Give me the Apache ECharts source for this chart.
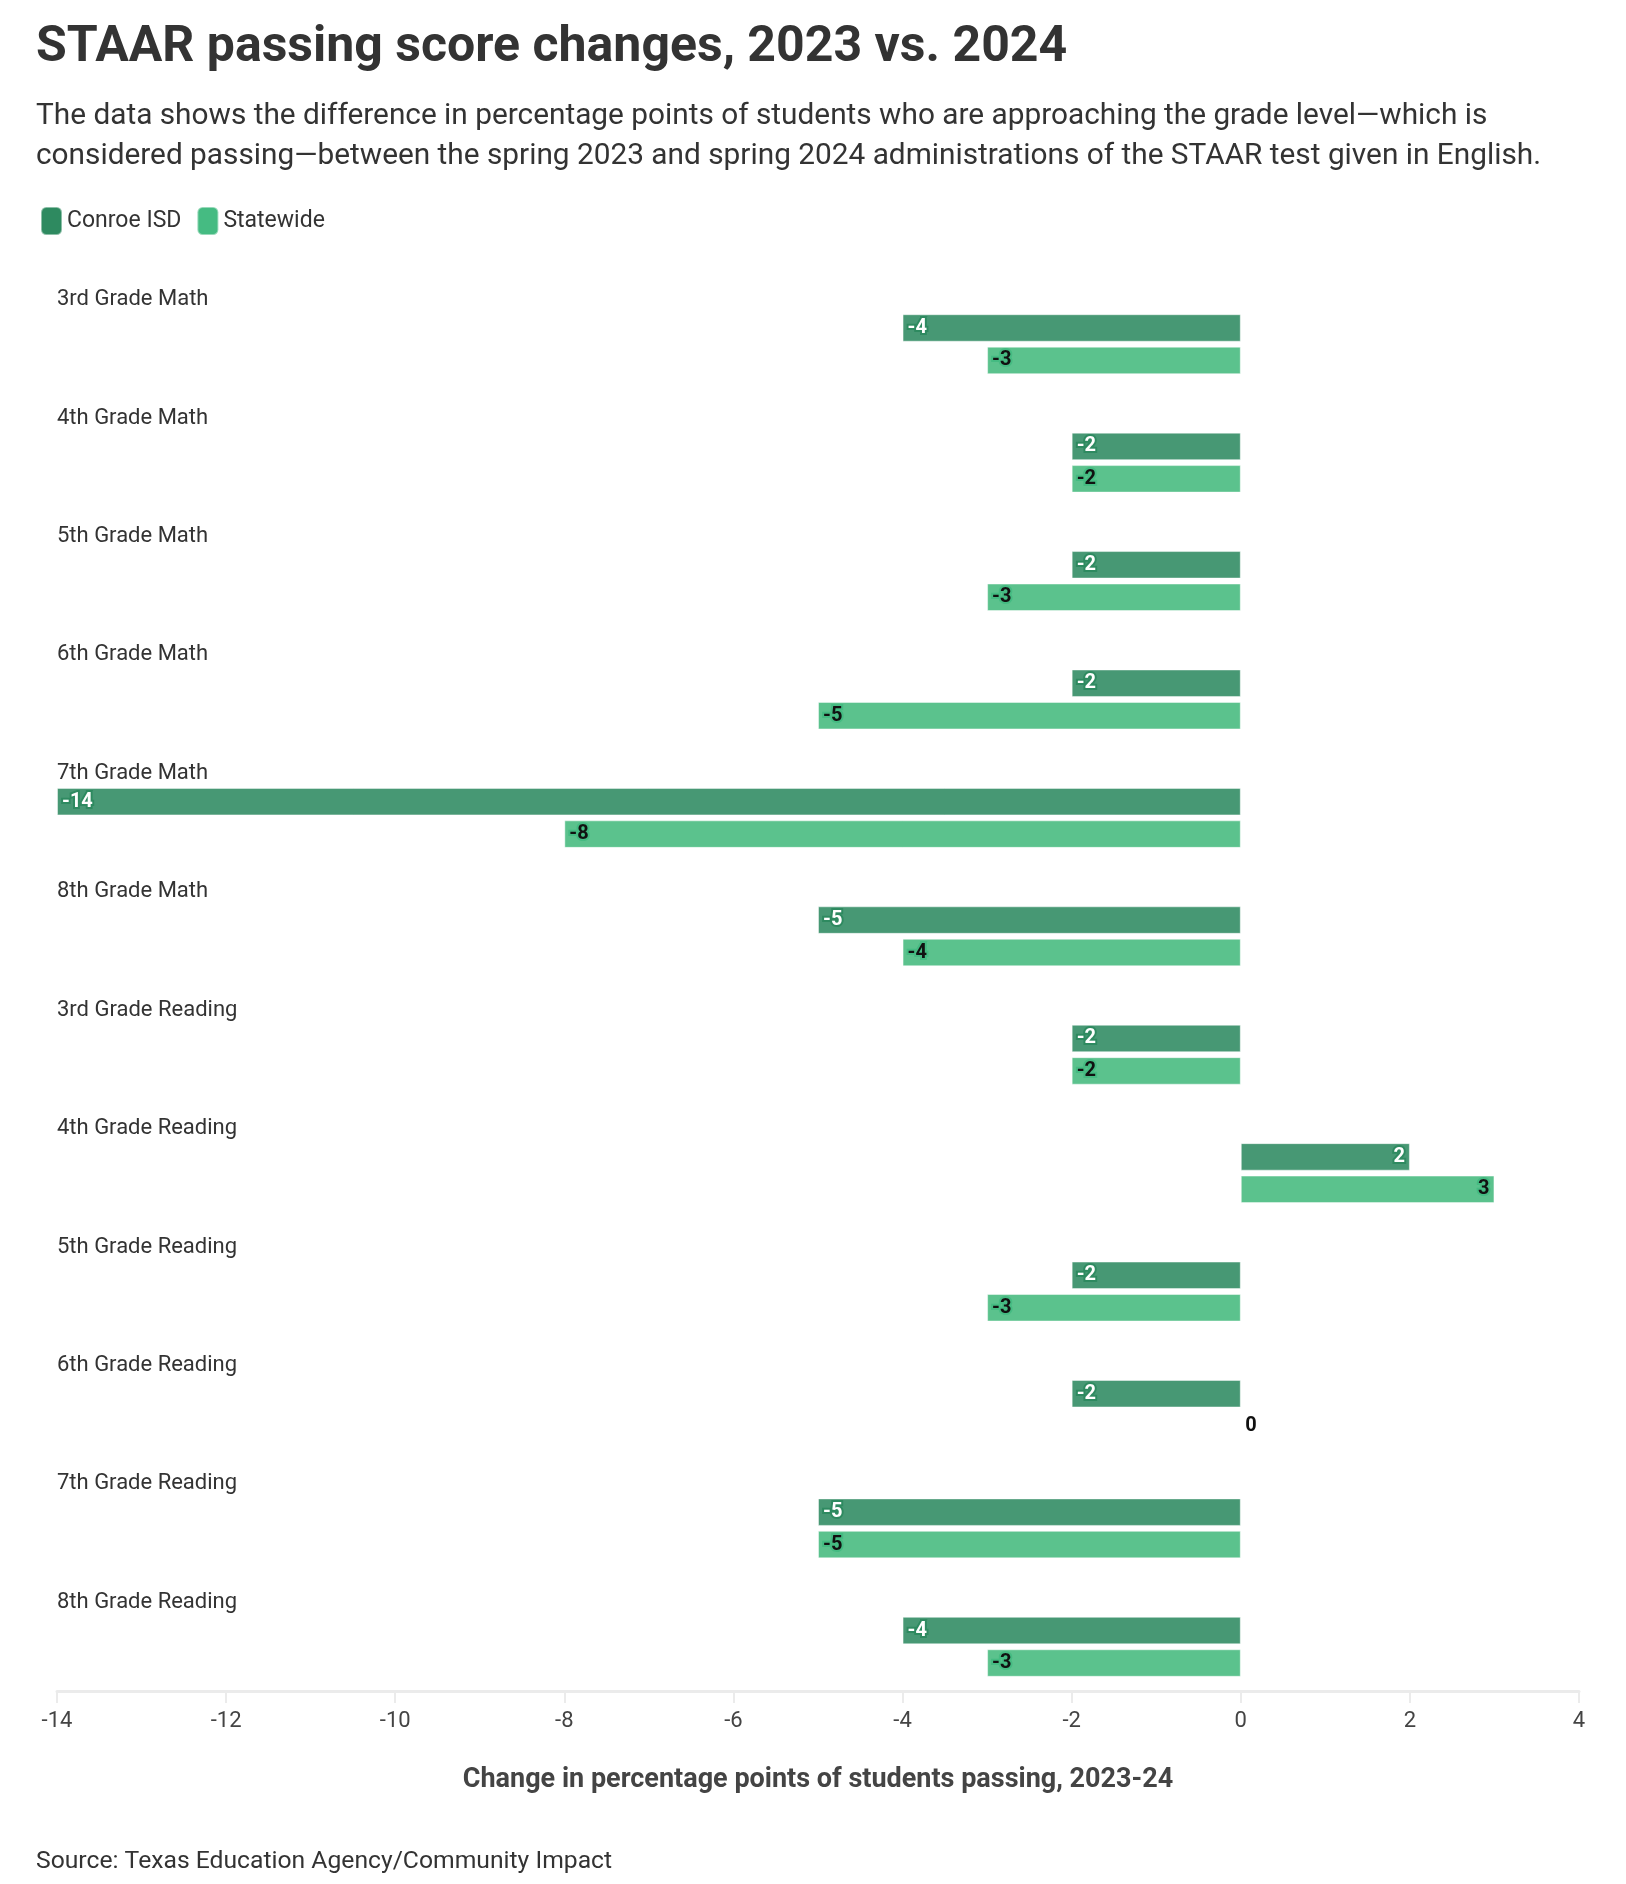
<!DOCTYPE html>
<html>
<head>
<meta charset="utf-8">
<title>STAAR passing score changes</title>
<script src="https://cdn.jsdelivr.net/npm/echarts@6/dist/echarts.min.js"></script>
<style>
  html, body { margin: 0; padding: 0; background: #fff; }
  #chart { width: 1626px; height: 1884px; }
</style>
</head>
<body>
<div id="chart"></div>
<script>
const categories = [
  '3rd Grade Math', '4th Grade Math', '5th Grade Math', '6th Grade Math',
  '7th Grade Math', '8th Grade Math', '3rd Grade Reading', '4th Grade Reading',
  '5th Grade Reading', '6th Grade Reading', '7th Grade Reading', '8th Grade Reading'
];
const conroeValues = [-4, -2, -2, -2, -14, -5, -2, 2, -2, -2, -5, -4];
const statewideValues = [-3, -2, -3, -5, -8, -4, -2, 3, -3, 0, -5, -3];
const xTicks = [-14, -12, -10, -8, -6, -4, -2, 0, 2, 4];

const FONT = 'Roboto';
const conroeColor = '#479874';
const stateColor = '#5bc28d';
const conroeLegend = '#2e8a60';
const stateLegend = '#45bb82';

const chart = echarts.init(document.getElementById('chart'));

// labels sit at the end of each bar, inside it
const labelFor = (v, color, halo) => ({
  show: true,
  position: v > 0 ? 'insideRight' : 'insideLeft',
  distance: 5,
  fontFamily: FONT,
  fontWeight: 'bold',
  fontSize: 20,
  color: color,
  textBorderColor: v === 0 ? 'transparent' : halo,
  textBorderWidth: 4
});

const option = {
  animation: false,
  backgroundColor: '#fff',
  textStyle: { fontFamily: FONT },
  graphic: [
    {
      type: 'text', left: 36, top: 23,
      style: { text: 'STAAR passing score changes, 2023 vs. 2024', font: 'bold 50px Roboto', fill: '#333' }
    },
    {
      type: 'text', left: 36, top: 97,
      style: {
        text: 'The data shows the difference in percentage points of students who are approaching the grade level\u2014which is\nconsidered passing\u2014between the spring 2023 and spring 2024 administrations of the STAAR test given in English.',
        font: '29.8px Roboto', lineHeight: 40, fill: '#333'
      }
    },
    {
      type: 'text', left: 36, top: 1849,
      style: { text: 'Source: Texas Education Agency/Community Impact', font: '24.7px Roboto', fill: '#333' }
    }
  ],
  legend: {
    left: 35, top: 201,
    icon: 'roundRect',
    itemWidth: 21, itemHeight: 28, itemGap: 15,
    textStyle: { fontFamily: FONT, fontSize: 23, color: '#333' },
    data: [
      { name: 'Conroe ISD', itemStyle: { color: conroeLegend } },
      { name: 'Statewide', itemStyle: { color: stateLegend } }
    ]
  },
  grid: { left: 57, right: 47, top: 285, bottom: 178 },
  xAxis: {
    type: 'value',
    min: -14, max: 4, interval: 2,
    offset: -15,
    name: 'Change in percentage points of students passing, 2023-24',
    nameLocation: 'middle',
    nameGap: 76,
    nameTextStyle: { fontFamily: FONT, fontWeight: 'bold', fontSize: 27, color: '#444' },
    axisLine: { show: true, lineStyle: { color: '#ebebeb', width: 3 } },
    axisTick: { show: true, length: 12, lineStyle: { color: '#ebebeb', width: 2 } },
    axisLabel: {
      margin: 19, fontFamily: FONT, fontSize: 22, color: '#444',
      formatter: v => xTicks.includes(v) ? String(v) : ''
    },
    splitLine: { show: false }
  },
  yAxis: {
    type: 'category',
    data: categories,
    inverse: true,
    axisLine: { show: false },
    axisTick: { show: false },
    axisLabel: {
      inside: true, margin: 0, align: 'left', verticalAlign: 'bottom',
      lineHeight: 89,
      fontFamily: FONT, fontSize: 22, color: '#333'
    }
  },
  series: [
    {
      name: 'Conroe ISD',
      type: 'bar',
      barWidth: 27.5,
      barGap: '18%',
      itemStyle: { color: conroeColor, borderColor: 'rgba(255,255,255,0.45)', borderWidth: 1 },
      data: conroeValues.map(v => ({ value: v, label: labelFor(v, '#fff', conroeLegend) }))
    },
    {
      name: 'Statewide',
      type: 'bar',
      barWidth: 27.5,
      barGap: '18%',
      itemStyle: { color: stateColor, borderColor: 'rgba(255,255,255,0.45)', borderWidth: 1 },
      data: statewideValues.map(v => ({ value: v, label: labelFor(v, '#111', stateLegend) }))
    }
  ]
};

chart.setOption(option);
window.addEventListener('resize', () => chart.resize());
</script>
</body>
</html>
